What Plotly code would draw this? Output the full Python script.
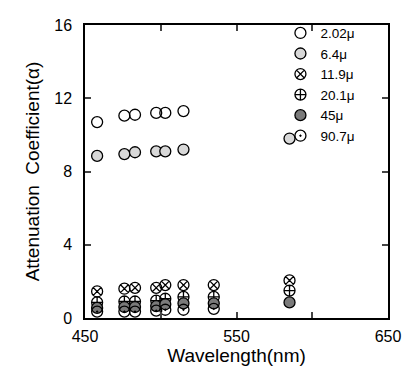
import plotly.graph_objects as go

wavelengths = [458, 476, 483, 497, 503, 515, 535, 585]

s_2_02 = [10.7, 11.05, 11.1, 11.2, 11.2, 11.3, None, None]
s_6_4 = [8.85, 8.95, 9.05, 9.1, 9.1, 9.2, None, 9.8]
s_11_9 = [1.45, 1.6, 1.65, 1.65, 1.8, 1.8, 1.8, 2.05]
s_20_1 = [0.85, 0.9, 0.9, 0.95, 1.05, 1.15, 1.15, 1.5]
s_45 = [0.55, 0.6, 0.6, 0.65, 0.75, 0.8, 0.8, 0.85]
s_90_7 = [0.35, 0.35, 0.35, 0.4, 0.45, 0.45, 0.5, None]

series_names = ["2.02μ", "6.4μ", "11.9μ", "20.1μ", "45μ", "90.7μ"]
series_values = [s_2_02, s_6_4, s_11_9, s_20_1, s_45, s_90_7]
symbols = ["circle-open", "circle", "circle-x-open", "circle-cross-open", "circle", "circle-open-dot"]
fills = ["black", "#d8d8d8", "black", "black", "#7a7a7a", "black"]

fig = go.Figure()
for name, vals, sym, fc in zip(series_names, series_values, symbols, fills):
    fig.add_trace(go.Scatter(
        x=wavelengths, y=vals, mode="markers", name=name,
        marker=dict(symbol=sym, size=11, color=fc,
                    line=dict(color="black", width=1.3)),
    ))

font_family = "Liberation Sans, Arial, sans-serif"
fig.update_layout(
    width=408, height=368,
    margin=dict(l=77, r=28, t=10, b=58),
    paper_bgcolor="white", plot_bgcolor="white",
    font=dict(family=font_family, color="black", size=16),
    showlegend=True,
    legend=dict(x=0.645, y=1.025, xanchor="left", yanchor="top",
                bgcolor="rgba(0,0,0,0)", font=dict(size=13.5),
                itemwidth=30, tracegroupgap=0),
    xaxis=dict(range=[450, 650], tickvals=[450, 500, 550, 600, 650],
               ticktext=["450", "", "550", "", "650"],
               ticks="inside", ticklen=6, tickwidth=1.5, showline=True,
               linecolor="black", linewidth=1.5, mirror="ticks",
               showgrid=False, zeroline=False, ticklabelstandoff=3,
               title=dict(text="Wavelength(nm)", standoff=2),
               tickfont=dict(size=16)),
    yaxis=dict(range=[0, 16], tickvals=[0, 4, 8, 12, 16],
               ticks="inside", ticklen=6, tickwidth=1.5, showline=True,
               linecolor="black", linewidth=1.5, mirror="ticks",
               showgrid=False, zeroline=False, ticklabelstandoff=8,
               title=dict(text="Attenuation  Coefficient(α)", standoff=10),
               tickfont=dict(size=16)),
)

fig.write_html("out.html")
